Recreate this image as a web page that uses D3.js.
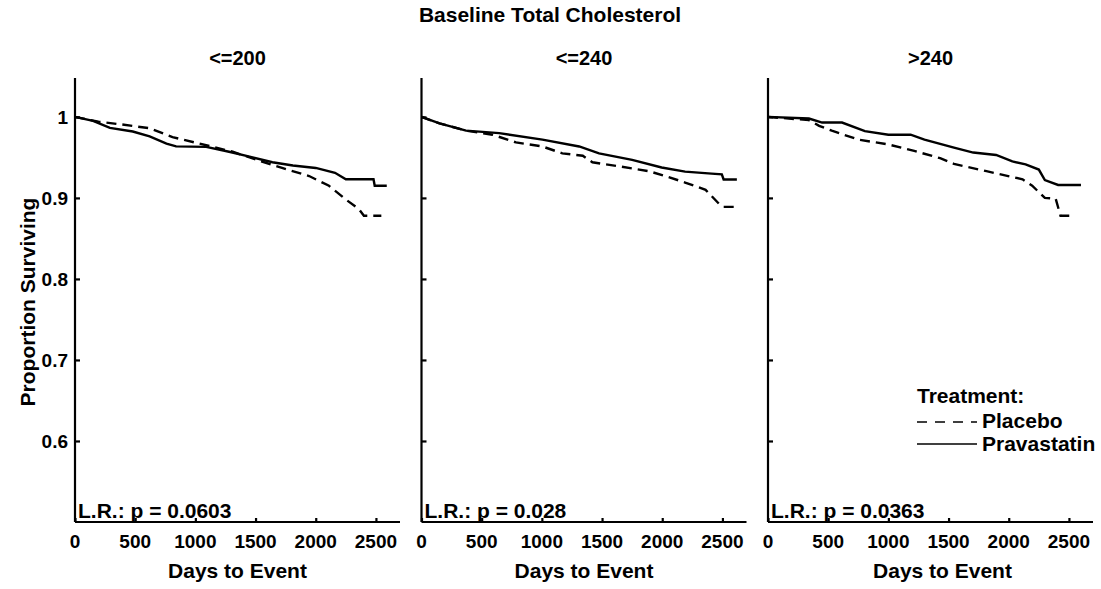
<!DOCTYPE html>
<html>
<head>
<meta charset="utf-8">
<script src="https://cdn.jsdelivr.net/npm/d3@7"></script>
<style>
  body { margin: 0; background: #fff; }
  svg text { font-family: "Liberation Sans", Arial, sans-serif; font-weight: bold; fill: #000; }
</style>
</head>
<body>
<div id="chart"></div>
<script>
// data (days, proportion surviving)
const panelTitles = ["<=200", "<=240", ">240"];
const pValues = ["L.R.: p = 0.0603", "L.R.: p = 0.028", "L.R.: p = 0.0363"];
const xTicks = [0, 500, 1000, 1500, 2000, 2500];
const yTicks = [0.6, 0.7, 0.8, 0.9, 1];

const placebo200 = [[0,1],[195,0.994],[370,0.991],[620,0.986],[810,0.975],[1035,0.967],[1310,0.957],[1530,0.946],[1720,0.937],[1945,0.927],[2110,0.915],[2250,0.898],[2360,0.886],[2400,0.878],[2545,0.878]];
const prava200   = [[0,1],[150,0.995],[290,0.9865],[480,0.982],[620,0.976],[760,0.967],[840,0.9636],[1090,0.963],[1280,0.957],[1450,0.951],[1640,0.944],[1810,0.94],[2000,0.937],[2160,0.931],[2250,0.923],[2480,0.923],[2490,0.915],[2590,0.915]];

const placebo240 = [[0,1],[150,0.992],[370,0.983],[590,0.978],[785,0.9685],[1000,0.9637],[1170,0.955],[1340,0.952],[1420,0.944],[1640,0.939],[1890,0.933],[2025,0.927],[2190,0.919],[2360,0.91],[2470,0.893],[2510,0.889],[2620,0.889]];
const prava240   = [[0,1],[150,0.992],[370,0.983],[645,0.98],[1005,0.972],[1310,0.9635],[1475,0.955],[1750,0.947],[1995,0.9375],[2190,0.9325],[2410,0.93],[2495,0.929],[2510,0.9227],[2620,0.9227]];

const placeboHi  = [[0,1],[340,0.996],[425,0.989],[530,0.983],[750,0.972],[1000,0.966],[1215,0.958],[1430,0.949],[1545,0.942],[1815,0.933],[2115,0.923],[2195,0.915],[2300,0.9],[2390,0.899],[2430,0.878],[2540,0.878]];
const pravaHi    = [[0,1],[340,0.998],[450,0.993],[615,0.993],[805,0.9825],[1000,0.978],[1185,0.978],[1300,0.972],[1545,0.962],[1705,0.956],[1895,0.953],[2030,0.945],[2140,0.9415],[2250,0.935],[2300,0.922],[2410,0.916],[2600,0.916]];

const placeboSeries = [placebo200, placebo240, placeboHi];
const pravaSeries = [prava200, prava240, pravaHi];

const width = 1101, height = 589;
const svg = d3.select("#chart").append("svg")
  .attr("width", width)
  .attr("height", height);

const plotTop = 78, plotBottom = 522, plotW = 325;
const panelLeft = i => 75 + i * 346.5;
const xTitleShift = [0, 0, 12];

const x = d3.scaleLinear().domain([0, 2700]).range([0, plotW]);
const y = d3.scaleLinear().domain([0.5, 1.048]).range([plotBottom, plotTop]);

const line = d3.line()
  .x(d => x(d[0]))
  .y(d => y(d[1]));

svg.append("text")
  .attr("x", 550).attr("y", 22)
  .attr("text-anchor", "middle")
  .attr("font-size", 21)
  .text("Baseline Total Cholesterol");

panelTitles.forEach((title, i) => {
  const g = svg.append("g").attr("transform", `translate(${panelLeft(i)},0)`);

  g.append("text")
    .attr("x", plotW / 2).attr("y", 65)
    .attr("text-anchor", "middle")
    .attr("font-size", 20)
    .text(title);

  // axes
  const yAxis = d3.axisRight(y).tickValues(yTicks).tickSize(5).tickFormat("");
  g.append("g").call(yAxis)
    .call(s => s.select(".domain").attr("d", `M0,${plotTop}V${plotBottom}`));

  if (i === 0) {
    g.selectAll(".ylab").data(yTicks).join("text")
      .attr("class", "ylab")
      .attr("x", -7).attr("y", d => y(d) + 7)
      .attr("text-anchor", "end")
      .attr("font-size", 19)
      .text(d => d);
  }

  const xAxis = d3.axisTop(x).tickValues(xTicks).tickSize(4).tickFormat("");
  g.append("g").attr("transform", `translate(0,${plotBottom})`).call(xAxis)
    .call(s => s.select(".domain").attr("d", `M0,0H${plotW}`));

  g.selectAll(".domain, .tick line").attr("stroke", "#000").attr("stroke-width", 2.2);

  g.selectAll(".xlab").data(xTicks).join("text")
    .attr("class", "xlab")
    .attr("x", d => x(d)).attr("y", 548)
    .attr("text-anchor", "middle")
    .attr("font-size", 19)
    .text(d => d);

  g.append("text")
    .attr("x", plotW / 2 + xTitleShift[i]).attr("y", 578)
    .attr("text-anchor", "middle")
    .attr("font-size", 21)
    .text("Days to Event");

  g.append("text")
    .attr("x", 3).attr("y", 518)
    .attr("font-size", 21)
    .text(pValues[i]);

  g.append("path")
    .datum(placeboSeries[i])
    .attr("d", line)
    .attr("fill", "none")
    .attr("stroke", "#000")
    .attr("stroke-width", 2.4)
    .attr("stroke-dasharray", "10,6");

  g.append("path")
    .datum(pravaSeries[i])
    .attr("d", line)
    .attr("fill", "none")
    .attr("stroke", "#000")
    .attr("stroke-width", 2.4);
});

svg.append("text")
  .attr("transform", "translate(35,302) rotate(-90)")
  .attr("text-anchor", "middle")
  .attr("font-size", 21)
  .text("Proportion Surviving");

// legend
const legend = svg.append("g").attr("transform", "translate(917,0)");
legend.append("text").attr("x", 0).attr("y", 403).attr("font-size", 21).text("Treatment:");
legend.append("line").attr("x1", 0).attr("x2", 60).attr("y1", 422).attr("y2", 422)
  .attr("stroke", "#000").attr("stroke-width", 1.6).attr("stroke-dasharray", "10,8");
legend.append("text").attr("x", 65).attr("y", 428).attr("font-size", 21).text("Placebo");
legend.append("line").attr("x1", 0).attr("x2", 60).attr("y1", 444).attr("y2", 444)
  .attr("stroke", "#000").attr("stroke-width", 1.6);
legend.append("text").attr("x", 65).attr("y", 451).attr("font-size", 21).text("Pravastatin");
</script>
</body>
</html>
